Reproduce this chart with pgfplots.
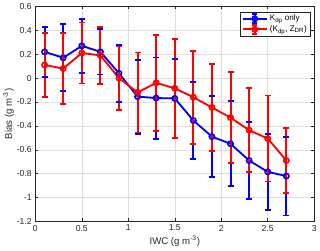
\documentclass[border=0pt]{standalone}
\usepackage{pgfplots}
\pgfplotsset{compat=1.18}
\usepackage{fontspec}
\setmainfont{Liberation Sans}
\definecolor{axgray}{rgb}{0.15,0.15,0.15}
\definecolor{gridgray}{rgb}{0.87,0.87,0.87}
\pgfplotsset{
  errleg/.style={legend image code/.code={
    \draw[##1, mark=none] (0pt,0pt) -- (24pt,0pt);
    \draw[##1, mark=none] (12pt,-4.5pt) -- (12pt,4.5pt);
    \draw[##1, mark=none] (9.5pt,-4.5pt) -- (14.5pt,-4.5pt);
    \draw[##1, mark=none] (9.5pt,4.5pt) -- (14.5pt,4.5pt);
    \draw[##1, only marks] plot coordinates {(12pt,0pt)};
  }},
  ebar/.style={draw=#1, line width=2pt, mark=-, mark size=3pt, mark options={solid, line width=1.8pt, draw=#1}, unbounded coords=jump, forget plot},
}
\begin{document}
\begin{tikzpicture}
\begin{axis}[
  scale only axis,
  width=275pt, height=212pt,
  xmin=0, xmax=3, ymin=-1.2, ymax=0.6,
  xtick={0,0.5,...,3},
  ytick={-1.2,-1,...,0.6},
  yticklabels={-1.2,-1,-0.8,-0.6,-0.4,-0.2,0,0.2,0.4,0.6},
  xticklabels={0,0.5,1,1.5,2,2.5,3},
  grid=major,
  major grid style={gridgray, line width=0.5pt},
  axis line style={axgray, line width=0.6pt},
  tick style={axgray, line width=0.5pt},
  tick align=inside,
  major tick length=3pt,
  ticklabel style={font=\fontsize{8.5}{10}\selectfont, text=axgray},
  label style={font=\fontsize{9.5}{11}\selectfont, text=axgray},
  /pgf/number format/assume math mode=true,
  xlabel={IWC (g m\textsuperscript{-3})},
  ylabel={Bias (g m\textsuperscript{-3})},
  xlabel style={yshift=2pt},
  ylabel style={yshift=-4pt},
  legend style={at={(0.985,0.975)}, anchor=north east, font=\fontsize{8}{9.5}\selectfont,
    draw=axgray, line width=0.5pt, inner sep=1pt, row sep=-1pt, cells={anchor=west}},
  legend cell align=left,
  clip=false,
]
% blue error bars (lower, upper)
\addplot[ebar=blue] coordinates {
  (0.1,0.01) (0.1,0.43) (0.1,nan)
  (0.3,-0.11) (0.3,0.45) (0.3,nan)
  (0.5,0.045) (0.5,0.495) (0.5,nan)
  (0.7,0.03) (0.7,0.41) (0.7,nan)
  (0.9,-0.20) (0.9,0.28) (0.9,nan)
  (1.1,-0.465) (1.1,0.155) (1.1,nan)
  (1.3,-0.507) (1.3,0.173) (1.3,nan)
  (1.5,-0.50) (1.5,0.16) (1.5,nan)
  (1.7,-0.675) (1.7,-0.035) (1.7,nan)
  (1.9,-0.83) (1.9,-0.15) (1.9,nan)
  (2.1,-0.905) (2.1,-0.195) (2.1,nan)
  (2.3,-1.01) (2.3,-0.37) (2.3,nan)
  (2.5,-1.105) (2.5,-0.465) (2.5,nan)
  (2.7,-1.15) (2.7,-0.49)
};
\addplot[color=blue, line width=1.8pt, mark=o, mark size=2.6pt, mark options={solid, line width=1.6pt, color=blue}, errleg]
  coordinates {
  (0.1,0.22) (0.3,0.17) (0.5,0.27) (0.7,0.22) (0.9,0.04)
  (1.1,-0.155) (1.3,-0.167) (1.5,-0.17) (1.7,-0.355) (1.9,-0.49)
  (2.1,-0.55) (2.3,-0.69) (2.5,-0.785) (2.7,-0.82)
  };
\addlegendentry{K\textsubscript{dp} only}
% red error bars (lower, upper)
\addplot[ebar=red] coordinates {
  (0.1,-0.155) (0.1,0.375) (0.1,nan)
  (0.3,-0.215) (0.3,0.375) (0.3,nan)
  (0.5,-0.045) (0.5,0.465) (0.5,nan)
  (0.7,-0.05) (0.7,0.43) (0.7,nan)
  (0.9,-0.265) (0.9,0.265) (0.9,nan)
  (1.1,-0.455) (1.1,0.215) (1.1,nan)
  (1.3,-0.44) (1.3,0.36) (1.3,nan)
  (1.5,-0.50) (1.5,0.33) (1.5,nan)
  (1.7,-0.55) (1.7,0.23) (1.7,nan)
  (1.9,-0.611) (1.9,0.119) (1.9,nan)
  (2.1,-0.711) (2.1,0.049) (2.1,nan)
  (2.3,-0.786) (2.3,-0.086) (2.3,nan)
  (2.5,-0.866) (2.5,-0.146) (2.5,nan)
  (2.7,-0.96) (2.7,-0.42)
};
\addplot[color=red, line width=1.8pt, mark=o, mark size=2.6pt, mark options={solid, line width=1.6pt, color=red}, errleg]
  coordinates {
  (0.1,0.11) (0.3,0.08) (0.5,0.21) (0.7,0.19) (0.9,0.00)
  (1.1,-0.12) (1.3,-0.04) (1.5,-0.085) (1.7,-0.16) (1.9,-0.246)
  (2.1,-0.331) (2.3,-0.436) (2.5,-0.506) (2.7,-0.69)
  };
\addlegendentry{(K\textsubscript{dp}, Z\textsubscript{DR})}
\end{axis}
\end{tikzpicture}
\end{document}
